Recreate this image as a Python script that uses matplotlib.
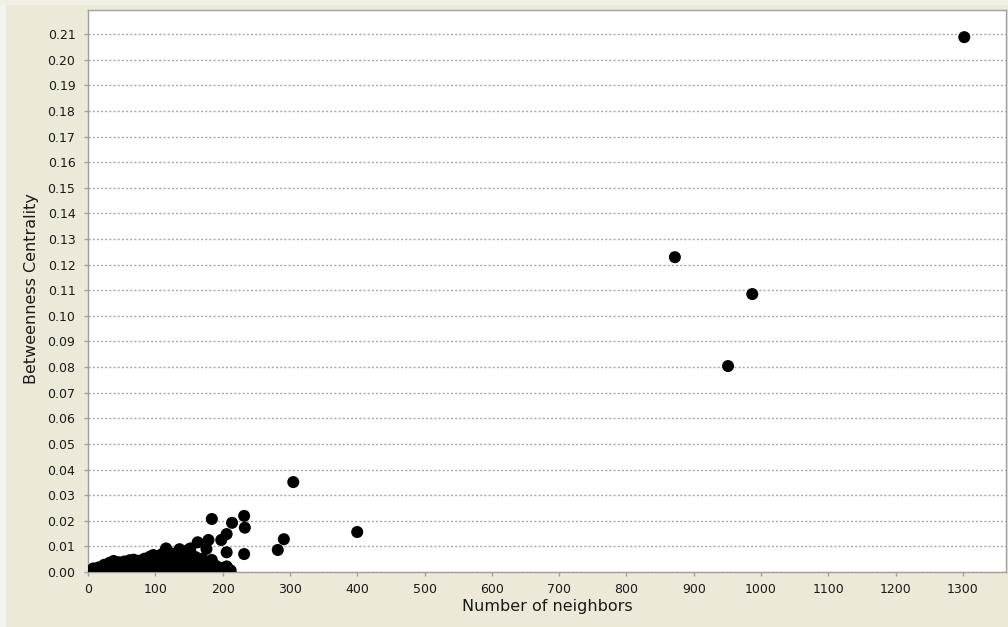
import matplotlib
matplotlib.use("Agg")
import matplotlib.pyplot as plt
from matplotlib.patches import Rectangle

# Number of neighbors vs. betweenness centrality per node
cluster_neighbors = [
    2, 6, 10, 14, 18, 22, 26, 30, 34, 38, 42, 46, 50, 55, 60, 65, 70, 75, 80, 85,
    90, 95, 100, 105, 110, 115, 120, 125, 130, 135, 140, 145, 150, 155, 160, 166,
    172, 178, 185, 191, 197, 203, 208, 212,
    12, 20, 28, 36, 44, 52, 60, 68, 76, 84, 92, 100, 108, 116, 124, 132, 140, 148,
    156, 164, 172, 180, 190, 200, 206,
    8, 16, 24, 32, 38, 46, 54, 62, 68, 76, 84, 92, 97, 104, 110, 116, 122, 128,
    136, 142, 149, 154, 160, 170,
]
cluster_centrality = [
    0.0002, 0.0004, 0.0003, 0.0005, 0.0004, 0.0006, 0.0005, 0.0007, 0.0006, 0.0008,
    0.0007, 0.0006, 0.0008, 0.0007, 0.0009, 0.0008, 0.0010, 0.0009, 0.0008, 0.0011,
    0.0010, 0.0009, 0.0012, 0.0011, 0.0010, 0.0013, 0.0011, 0.0012, 0.0010, 0.0013,
    0.0011, 0.0012, 0.0010, 0.0013, 0.0011, 0.0009, 0.0012, 0.0008, 0.0010, 0.0007,
    0.0011, 0.0009, 0.0012, 0.0006,
    0.0012, 0.0016, 0.0022, 0.0026, 0.0024, 0.0028, 0.0030, 0.0029, 0.0034, 0.0036,
    0.0040, 0.0038, 0.0044, 0.0048, 0.0046, 0.0050, 0.0052, 0.0049, 0.0040, 0.0030,
    0.0026, 0.0020, 0.0024, 0.0016, 0.0021,
    0.0014, 0.0018, 0.0028, 0.0036, 0.0043, 0.0038, 0.0041, 0.0046, 0.0048, 0.0044,
    0.0052, 0.0060, 0.0066, 0.0062, 0.0070, 0.0086, 0.0074, 0.0070, 0.0080, 0.0072,
    0.0086, 0.0068, 0.0058, 0.0052,
]

spread_neighbors = [
    116, 136, 152, 163, 176, 179, 184, 184, 198, 206, 206, 206, 214, 232, 232, 233,
    282, 291, 305, 400, 872, 951, 987, 1302,
]
spread_centrality = [
    0.0092, 0.0089, 0.0092, 0.0116, 0.0090, 0.0125, 0.0207, 0.0047, 0.0125, 0.0148,
    0.0077, 0.0021, 0.0192, 0.0219, 0.0070, 0.0173,
    0.0086, 0.0128, 0.0351, 0.0156, 0.1229, 0.0804, 0.1085, 0.2088,
]

x_ticks = list(range(0, 1301, 100))
y_ticks = [round(0.01 * i, 2) for i in range(22)]

W, H = 1008, 627
fig = plt.figure(figsize=(W / 100, H / 100), dpi=100)
fig.patch.set_facecolor("#ECE9D8")
# light window border strips
fig.patches.append(Rectangle((0, 0), 6 / W, 1, transform=fig.transFigure,
                             facecolor="#F3F3F1", edgecolor="none", zorder=0))
fig.patches.append(Rectangle((0, 1 - 5 / H), 1, 5 / H, transform=fig.transFigure,
                             facecolor="#F1EFE6", edgecolor="none", zorder=0))

ax = fig.add_axes([88 / W, (H - 572) / H, 918 / W, 562 / H])
ax.set_facecolor("white")

ax.scatter(cluster_neighbors, cluster_centrality, s=75, color="black",
           edgecolors="none", zorder=3)
ax.scatter(spread_neighbors, spread_centrality, s=75, color="black",
           edgecolors="none", zorder=3)

ax.set_xlim(0, 1364)
ax.set_ylim(0, 0.2194)
ax.set_xticks(x_ticks)
ax.set_yticks(y_ticks)
ax.set_yticklabels([f"{v:.2f}" for v in y_ticks])

ax.yaxis.grid(True, color="#A8A8A8", linewidth=1, linestyle=(0, (1.5, 1.5)))
ax.xaxis.grid(False)
ax.set_axisbelow(True)

ax.tick_params(axis="both", direction="out", length=3, width=1, color="#A0A0A0",
               labelsize=9, labelcolor="#1A1A1A")
ax.tick_params(axis="y", pad=6)
ax.tick_params(axis="x", pad=5)

for side in ["left", "bottom", "top", "right"]:
    ax.spines[side].set_color("#A0A0A0")
    ax.spines[side].set_linewidth(1)

ax.set_xlabel("Number of neighbors", fontsize=11.5, color="#1A1A1A")
ax.set_ylabel("Betweenness Centrality", fontsize=11.5, color="#1A1A1A")
ax.xaxis.set_label_coords(0.5, (572 - 599) / 562)
ax.yaxis.set_label_coords((39 - 88) / 918, (572 - 289) / 562)

fig.savefig("out.png", dpi=100, facecolor=fig.get_facecolor())
